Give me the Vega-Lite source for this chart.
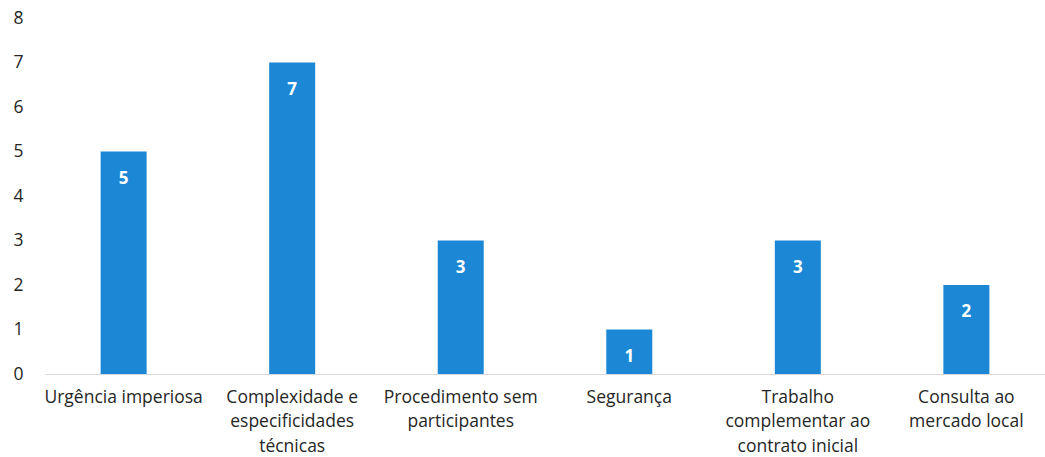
{
  "$schema": "https://vega.github.io/schema/vega-lite/v6.json",
  "width": 1000,
  "height": 356,
  "autosize": {"type": "none"},
  "padding": {"left": 45, "top": 18, "right": 0, "bottom": 83},
  "background": "white",
  "config": {"view": {"stroke": null}, "font": "Open Sans"},
  "data": {"values": [
    {"categoria": "Urgência imperiosa", "n": 5},
    {"categoria": "Complexidade e especificidades técnicas", "n": 7},
    {"categoria": "Procedimento sem participantes", "n": 3},
    {"categoria": "Segurança", "n": 1},
    {"categoria": "Trabalho complementar ao contrato inicial", "n": 3},
    {"categoria": "Consulta ao mercado local", "n": 2}
  ]},
  "encoding": {
    "x": {
      "field": "categoria", "type": "nominal", "sort": null,
      "scale": {"paddingInner": 0.727, "paddingOuter": 0.33},
      "axis": {
        "title": null, "labelAngle": 0, "ticks": false,
        "domainColor": "#d9d9d9", "domainWidth": 1,
        "labelFontSize": 17.5, "labelColor": "#262626", "labelPadding": 14,
        "labelLineHeight": 24.5, "labelBaseline": "top",
        "labelExpr": "datum.label == 'Complexidade e especificidades técnicas' ? ['Complexidade e', 'especificidades', 'técnicas'] : datum.label == 'Procedimento sem participantes' ? ['Procedimento sem', 'participantes'] : datum.label == 'Trabalho complementar ao contrato inicial' ? ['Trabalho', 'complementar ao', 'contrato inicial'] : datum.label == 'Consulta ao mercado local' ? ['Consulta ao', 'mercado local'] : datum.label"
      }
    },
    "y": {
      "field": "n", "type": "quantitative",
      "scale": {"domain": [0, 8]},
      "axis": {
        "title": null, "grid": false, "domain": false, "ticks": false,
        "tickCount": 8, "labelFontSize": 17.5, "labelColor": "#262626",
        "labelPadding": 22
      }
    }
  },
  "layer": [
    {"mark": {"type": "bar", "color": "#1c88d5"}},
    {
      "mark": {"type": "text", "color": "white", "fontWeight": "bold", "fontSize": 17, "baseline": "middle", "dy": 27},
      "encoding": {"text": {"field": "n", "type": "quantitative"}}
    }
  ]
}
